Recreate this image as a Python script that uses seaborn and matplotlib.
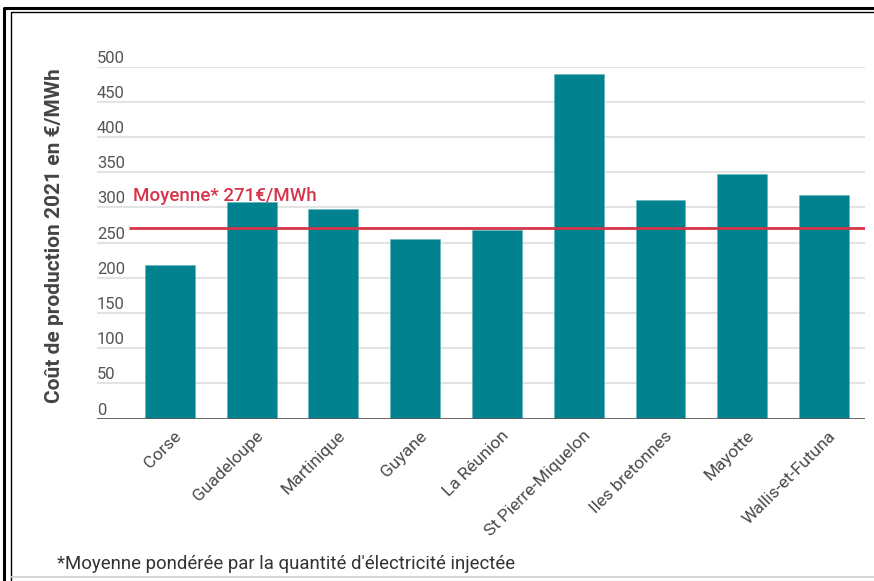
import matplotlib
matplotlib.use("Agg")
import matplotlib.pyplot as plt
import matplotlib.transforms as mtransforms
from matplotlib.lines import Line2D
import seaborn as sns
import pandas as pd

regions = ["Corse", "Guadeloupe", "Martinique", "Guyane", "La Réunion",
           "St Pierre-Miquelon", "Iles bretonnes", "Mayotte", "Wallis-et-Futuna"]
costs = [218, 308, 298, 255, 268, 490, 310, 348, 318]
average = 271
y_ticks = [0, 50, 100, 150, 200, 250, 300, 350, 400, 450, 500]

sns.set_theme(style="white")
plt.rcParams["font.family"] = ["Roboto", "DejaVu Sans"]

W, H = 874, 581
fig = plt.figure(figsize=(W / 100, H / 100), dpi=100)
ax = fig.add_axes([97 / W, 1 - 418.5 / H, (865 - 97) / W, (418.5 - 66.7) / H])

df = pd.DataFrame({"region": regions, "cost": costs})
sns.barplot(data=df, x="region", y="cost", color="#00838f", saturation=1,
            width=0.61, ax=ax, zorder=3, edgecolor="#5fb3bb", linewidth=0.4)

ax.set_ylim(0, 500)
ax.set_xlim(-0.89, 8.5)
for s in ax.spines.values():
    s.set_visible(False)

# horizontal grid
for v in y_ticks[1:]:
    ax.axhline(v, color="#e3e3e3", lw=1.5, zorder=1)
ax.axhline(0, color="#5a5a5a", lw=2, zorder=4)

# value labels sitting above each gridline
ax.set_yticks([])
trans = mtransforms.blended_transform_factory(ax.transAxes, ax.transData)
for v in y_ticks:
    ax.text(0.0, v + 12, str(v), transform=trans, ha="left", va="center",
            fontsize=12, color="#555555")

# weighted average line
ax.hlines(average, -0.5, 8.5, color="#d5344a", lw=2, zorder=5)
ax.text(-0.45, average + 45, f"Moyenne* {average}€/MWh", ha="left", va="center",
        fontsize=13.5, color="#d5344a", fontweight="medium", zorder=6)

ax.set_xlabel("")
ax.set_ylabel("")
ax.tick_params(axis="x", length=0, pad=7)
offset = mtransforms.ScaledTranslation(4 / 100, 0, fig.dpi_scale_trans)
ax.set_xticks(range(len(regions)))
ax.set_xticklabels(regions, rotation=45, ha="right", va="top",
                   rotation_mode="anchor", fontsize=12.5, color="#4a4a4a")
for lab in ax.get_xticklabels():
    lab.set_transform(lab.get_transform() + offset)

fig.text(55 / W, 1 - 236 / H, "Coût de production 2021 en €/MWh", rotation=90,
         ha="center", va="center", fontsize=15, fontweight="bold", color="#444444")
fig.text(57 / W, 1 - 564 / H, "*Moyenne pondérée par la quantité d'électricité injectée",
         ha="left", va="center", fontsize=13.4, color="#333333")

# framing border
def px_line(xs, ys, **kw):
    fig.add_artist(Line2D([x / W for x in xs], [1 - y / H for y in ys],
                          transform=fig.transFigure, **kw))

px_line([4, 4, W], [H, 8, 8], color="black", lw=2.2, solid_capstyle="butt")
px_line([11, 11, W], [H, 11.5, 11.5], color="black", lw=1.0, solid_capstyle="butt")
px_line([11, W], [577, 577], color="#d0d0d0", lw=1.2)

fig.savefig("out.png", dpi=100)
